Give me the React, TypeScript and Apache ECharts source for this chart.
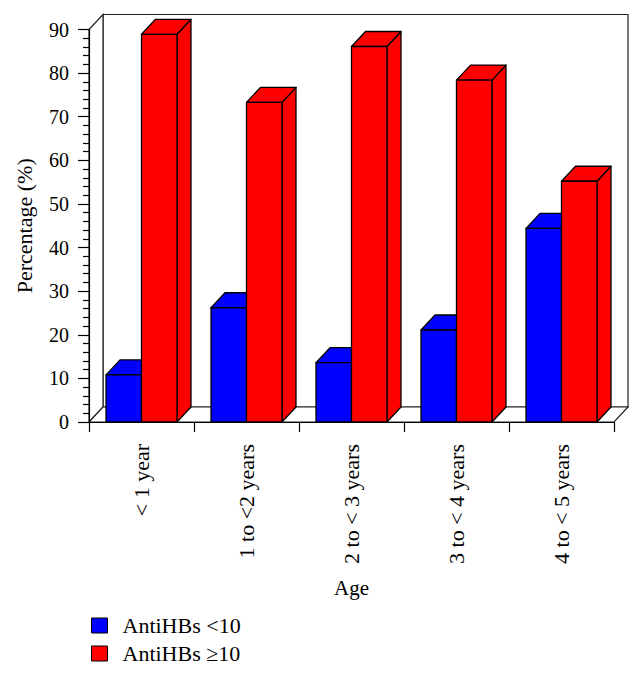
import React, { useEffect, useRef } from "react";
import * as echarts from "echarts";

const categories = ["< 1 year", "1 to <2 years", "2 to < 3 years", "3 to < 4 years", "4 to < 5 years"];
const seriesNames = ["AntiHBs <10", "AntiHBs \u226510"];
const lowValues = [10.8, 26.2, 13.6, 21.1, 44.4];
const highValues = [88.9, 73.3, 86.1, 78.4, 55.2];
const yTicks = { min: 0, max: 90, interval: 10 };

const FONT = '"Liberation Serif", "DejaVu Serif", serif';
const DX = 14;
const DY = -15;
const STROKE = "#000";

function barRenderer(color: string, side: "left" | "right") {
  return (params: any, api: any) => {
    const cat = api.value(0);
    const v = api.value(1);
    const base = api.coord([cat, 0]);
    const top = api.coord([cat, v]);
    const band = api.size([1, 0])[0];
    const bw = band * 0.338;
    const x0 = side === "left" ? base[0] - bw : base[0];
    const x1 = x0 + bw;
    const yT = top[1];
    const yB = base[1];
    const style = { fill: color, stroke: STROKE, lineWidth: 1.3, lineJoin: "round" };
    return {
      type: "group",
      children: [
        { type: "polygon", shape: { points: [[x1, yT], [x1 + DX, yT + DY], [x1 + DX, yB + DY], [x1, yB]] }, style },
        { type: "polygon", shape: { points: [[x0, yT], [x1, yT], [x1 + DX, yT + DY], [x0 + DX, yT + DY]] }, style },
        { type: "rect", shape: { x: x0, y: yT, width: bw, height: yB - yT }, style },
      ],
    };
  };
}

function frameRenderer(params: any, api: any) {
  const cs = params.coordSys;
  const x = cs.x, y = cs.y, w = cs.width, h = cs.height;
  const st = { fill: "#fff", stroke: "#222", lineWidth: 1.2 };
  return {
    type: "group",
    children: [
      { type: "polygon", shape: { points: [[x + DX, y + DY], [x + w + DX, y + DY], [x + w + DX, y + h + DY], [x + DX, y + h + DY]] }, style: st },
      { type: "polygon", shape: { points: [[x, y], [x + DX, y + DY], [x + DX, y + h + DY], [x, y + h]] }, style: st },
      { type: "polygon", shape: { points: [[x, y + h], [x + w, y + h], [x + w + DX, y + h + DY], [x + DX, y + h + DY]] }, style: st },
    ],
  };
}

export default function App() {
  const ref = useRef<HTMLDivElement>(null);
  useEffect(() => {
    if (!ref.current) return;
    const chart = echarts.init(ref.current, null, { renderer: "svg" });
    chart.setOption({
      animation: false,
      backgroundColor: "#fff",
      textStyle: { fontFamily: FONT, color: "#000" },
      grid: { left: 89, top: 29.5, right: 29, bottom: 253, containLabel: false },
      legend: {
        orient: "vertical",
        left: 91,
        top: 614.5,
        itemWidth: 16,
        itemHeight: 15,
        itemGap: 6,
        padding: 0,
        selectedMode: false,
        textStyle: { fontFamily: FONT, fontSize: 22, color: "#000", padding: [0, 0, 0, 10] },
        data: [
          { name: seriesNames[0], icon: "rect", itemStyle: { color: "#0000ff", borderColor: "#000", borderWidth: 1 } },
          { name: seriesNames[1], icon: "rect", itemStyle: { color: "#ff0000", borderColor: "#000", borderWidth: 1 } },
        ],
      },
      xAxis: {
        type: "category",
        data: categories,
        boundaryGap: true,
        name: "Age",
        nameLocation: "middle",
        nameGap: 155,
        nameTextStyle: { fontFamily: FONT, fontSize: 21, color: "#000" },
        axisLine: { show: true, lineStyle: { color: "#000", width: 1.2 } },
        axisTick: { show: true, interval: 0, length: 10, lineStyle: { color: "#000", width: 1.2 } },
        axisLabel: { interval: 0, rotate: 90, margin: 22, fontFamily: FONT, fontSize: 22, color: "#000", padding: [0, 0, 8, 0] },
        splitLine: { show: false },
        z: 1,
      },
      yAxis: {
        type: "value",
        min: yTicks.min,
        max: yTicks.max,
        interval: yTicks.interval,
        name: "Percentage (%)",
        nameLocation: "middle",
        nameRotate: 90,
        nameGap: 54,
        nameTextStyle: { fontFamily: FONT, fontSize: 22, color: "#000" },
        axisLine: { show: true, lineStyle: { color: "#000", width: 1.2 } },
        axisTick: { show: true, length: 11, lineStyle: { color: "#000", width: 1.2 } },
        minorTick: { show: true, splitNumber: 5, length: 6, lineStyle: { color: "#000", width: 1.2 } },
        axisLabel: { margin: 20, fontFamily: FONT, fontSize: 20, color: "#000" },
        splitLine: { show: false },
        z: 1,
      },
      series: [
        {
          type: "custom",
          name: "frame",
          renderItem: frameRenderer,
          data: [[0, 0]],
          z: 0,
          silent: true,
          clip: false,
        },
        {
          type: "custom",
          name: seriesNames[0],
          itemStyle: { color: "#0000ff" },
          renderItem: barRenderer("#0000ff", "left"),
          data: lowValues.map((v, i) => [i, v]),
          z: 2,
          clip: false,
        },
        {
          type: "custom",
          name: seriesNames[1],
          itemStyle: { color: "#ff0000" },
          renderItem: barRenderer("#ff0000", "right"),
          data: highValues.map((v, i) => [i, v]),
          z: 3,
          clip: false,
        },
      ],
    });
    return () => chart.dispose();
  }, []);
  return <div ref={ref} style={{ position: "absolute", left: 0, top: 0, width: 643, height: 675 }} />;
}
